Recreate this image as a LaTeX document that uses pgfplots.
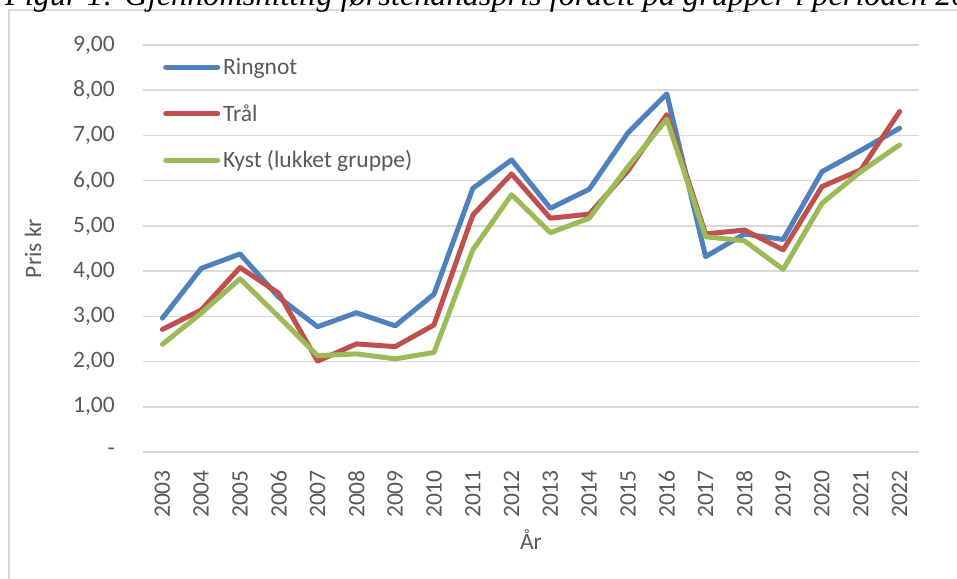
\documentclass[border=0pt]{standalone}
\usepackage{fontspec}
\setmainfont{Carlito}
\newfontfamily\titlefont{Liberation Serif}
\usepackage{pgfplots}
\usepackage{pgfplotstable}
\pgfplotsset{compat=1.18}
\definecolor{ringnot}{HTML}{4F81BD}
\definecolor{tral}{HTML}{C0504D}
\definecolor{kyst}{HTML}{9BBB59}
\definecolor{txt}{HTML}{595959}
\definecolor{gridc}{HTML}{D9D9D9}

\pgfplotstableread{
year ringnot tral kyst
2003 2.96 2.71 2.38
2004 4.06 3.14 3.07
2005 4.38 4.08 3.83
2006 3.42 3.51 2.99
2007 2.77 2.01 2.13
2008 3.08 2.39 2.17
2009 2.79 2.33 2.06
2010 3.49 2.81 2.20
2011 5.83 5.24 4.47
2012 6.46 6.15 5.69
2013 5.39 5.17 4.85
2014 5.81 5.26 5.17
2015 7.06 6.22 6.31
2016 7.92 7.46 7.36
2017 4.32 4.82 4.76
2018 4.82 4.91 4.67
2019 4.70 4.47 4.04
2020 6.20 5.87 5.50
2021 6.67 6.24 6.20
2022 7.16 7.53 6.79
}\data

\newcommand{\cfont}{\fontsize{23.5}{28}\selectfont}

\begin{document}
\begin{tikzpicture}[x=1pt,y=1pt]
\useasboundingbox (0,0) rectangle (957,578);
\draw[gridc, line width=1.3pt] (9,-10) -- (9,568) -- (980,568);
\node[anchor=base west, inner sep=0pt, font=\titlefont\itshape\fontsize{32.3}{36}\selectfont] at (5,572.5) {Figur 1: Gjennomsnittlig førstehåndspris fordelt på grupper i perioden 2003--2022};
\begin{axis}[
  at={(143pt,126pt)}, anchor=south west,
  scale only axis, width=776pt, height=407pt,
  xmin=2002.5, xmax=2022.5, ymin=0, ymax=9,
  xtick={2003,...,2022},
  xticklabels={2003,2004,2005,2006,2007,2008,2009,2010,2011,2012,2013,2014,2015,2016,2017,2018,2019,2020,2021,2022},
  ytick={0,1,...,9},
  yticklabels={{-\hspace{12pt}},{1,00},{2,00},{3,00},{4,00},{5,00},{6,00},{7,00},{8,00},{9,00}},
  major tick length=0pt,
  axis line style={draw=none},
  ymajorgrids,
  grid style={gridc, line width=1.5pt},
  ticklabel style={font=\cfont, text=txt},
  xticklabel style={rotate=90, anchor=east, inner sep=0pt},
  xticklabel shift=18pt,
  yticklabel style={anchor=east, inner sep=0pt},
  yticklabel shift=28pt,
  ylabel={Pris kr},
  ylabel style={at={(axis description cs:-0.1418,0.5)}, anchor=center, font=\cfont, text=txt},
  xlabel={År},
  xlabel style={at={(axis description cs:0.5,-0.2162)}, anchor=center, font=\cfont, text=txt},
  legend style={at={(axis description cs:0,1)}, anchor=north west, xshift=20pt, yshift=-12.5pt,
    draw=none, fill=none, inner sep=0pt, row sep=23.5pt, column sep=3pt,
    font=\cfont, text=txt,
    nodes={inner sep=0pt, text height=17pt, text depth=6pt}},
  legend cell align=left,
  legend image code/.code={\draw[#1, line width=5pt, line cap=round] (2.5pt,2pt) -- (54.5pt,2pt);},
  every axis plot/.append style={line width=5pt, line join=round, line cap=round, mark=none},
]
\addplot[ringnot] table[x=year, y=ringnot] {\data};
\addlegendentry{Ringnot}
\addplot[tral] table[x=year, y=tral] {\data};
\addlegendentry{Trål}
\addplot[kyst] table[x=year, y=kyst] {\data};
\addlegendentry{Kyst (lukket gruppe)}
\end{axis}
\end{tikzpicture}
\end{document}
